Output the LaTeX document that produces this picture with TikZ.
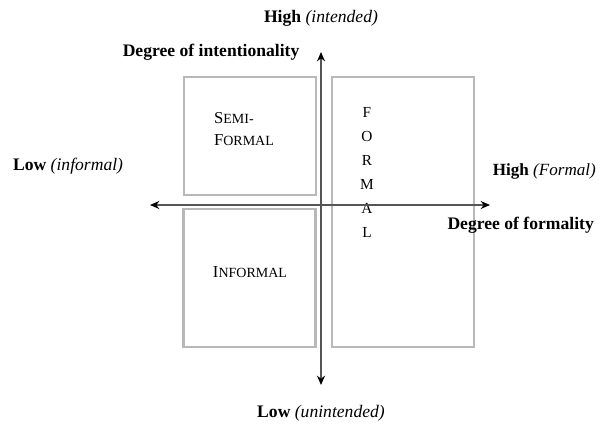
\documentclass[tikz,border=0pt]{standalone}
\usepackage{fontspec}
\setmainfont{Liberation Serif}
\usetikzlibrary{arrows, arrows.meta, positioning}
\definecolor{boxgray}{HTML}{B8B8B8}
\definecolor{axisgray}{HTML}{555555}

\begin{document}
\begin{tikzpicture}[x=0.75pt, y=-0.75pt, node distance=2cm]
\tikzstyle{quadrant} = [rectangle, draw=boxgray, line width=1.7pt, inner sep=0pt]
\tikzstyle{axis} = [{Stealth[black, length=7pt, width=6pt]}-{Stealth[black, length=7pt, width=6pt]}, draw=axisgray, line width=2pt]
\tikzstyle{axislabel} = [font=\fontsize{13.2}{15}\selectfont, inner sep=1pt]
\tikzstyle{boxtext} = [font=\fontsize{12.5}{17}\selectfont, align=left]

\useasboundingbox (0,0) rectangle (604,428);

% Quadrant boxes
\node (semi) [quadrant, minimum width=99pt, minimum height=89pt] at (250,136) {};
\node (informal) [quadrant, minimum width=99pt, minimum height=104pt] at (249.5,278) {};
\node (formal) [quadrant, minimum width=107pt, minimum height=203pt] at (403,212) {};

% Box texts
\node (semitext) [boxtext] at (244,129) {S{\fontsize{10.5}{17}\selectfont EMI-}\\F{\fontsize{10.5}{17}\selectfont ORMAL}};
\node (inftext) [boxtext] at (250,272) {I{\fontsize{10.5}{17}\selectfont NFORMAL}};
\node (formaltext) [boxtext, align=center, font=\fontsize{11.5}{18}\selectfont] at (367,172) {F\\O\\R\\M\\A\\L};

% Axes
\coordinate (west) at (150,205);
\coordinate (east) at (490,205);
\coordinate (north) at (321,52);
\coordinate (south) at (321,385);
\draw[axis] (west) -- (east);
\draw[axis, line width=2.2pt] (south) -- (north);

% Axis labels
\node (highint) [axislabel, above=18pt of north] {\textbf{High} \textit{(intended)}};
\node (degint) [axislabel, left=15pt of north] {\textbf{Degree of intentionality}};
\node (lowinf) [axislabel, above left=22pt and 19pt of west] {\textbf{Low} \textit{(informal)}};
\node (highform) [axislabel, above right=18pt and 1pt of east, font=\fontsize{12.8}{15}\selectfont] {\textbf{High} \textit{(Formal)}};
\node (degform) [axislabel, below=8pt of east, xshift=23pt] {\textbf{Degree of formality}};
\node (lowunint) [axislabel, below=14pt of south] {\textbf{Low} \textit{(unintended)}};

\end{tikzpicture}
\end{document}
